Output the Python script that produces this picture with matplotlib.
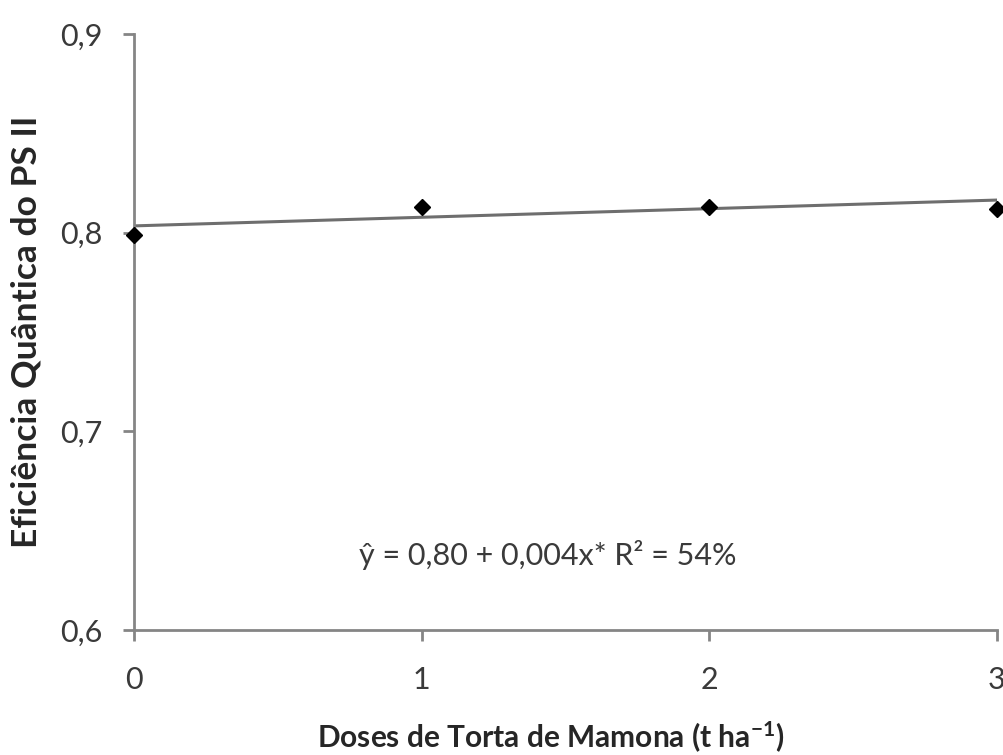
import matplotlib
matplotlib.use("Agg")
import matplotlib.pyplot as plt

# Data
doses = [0, 1, 2, 3]
efficiency = [0.799, 0.813, 0.813, 0.812]
trend_x = [0, 3]
trend_y = [0.8034, 0.8164]
x_ticks = [0, 1, 2, 3]
x_tick_labels = ["0", "1", "2", "3"]
y_ticks = [0.6, 0.7, 0.8, 0.9]
y_tick_labels = ["0,6", "0,7", "0,8", "0,9"]
equation = "ŷ = 0,80 + 0,004x* R² = 54%"
xlabel = "Doses de Torta de Mamona (t ha$^{-1}$)"
ylabel = "Eficiência Quântica do PS II"

plt.rcParams['font.family'] = ['Lato', 'DejaVu Sans']
plt.rcParams['mathtext.fontset'] = 'custom'
plt.rcParams['mathtext.rm'] = 'Lato'
plt.rcParams['mathtext.bf'] = 'Lato:bold'
plt.rcParams['mathtext.default'] = 'regular'

fig = plt.figure(figsize=(10.04, 7.55), dpi=100)
ax = fig.add_axes([0.1335, 0.1656, 0.993 - 0.1335, 0.955 - 0.1656])

grey = "#858585"
ax.plot(trend_x, trend_y, color="#6e6e6e", lw=2.2, zorder=2)
ax.plot(doses, efficiency, linestyle="none", marker="D", markersize=8.5,
        color="black", zorder=3, clip_on=False)

ax.set_xlim(0, 3)
ax.set_ylim(0.6, 0.9)
ax.set_xticks(x_ticks)
ax.set_xticklabels(x_tick_labels)
ax.set_yticks(y_ticks)
ax.set_yticklabels(y_tick_labels)

for s in ["top", "right"]:
    ax.spines[s].set_visible(False)
for s in ["left", "bottom"]:
    ax.spines[s].set_color(grey)
    ax.spines[s].set_linewidth(2)

ax.tick_params(axis="both", direction="out", length=8, width=2, color=grey,
               labelsize=22, labelcolor="#3a3a3a")
ax.tick_params(axis="y", pad=15)
ax.tick_params(axis="x", pad=18)

ax.set_xlabel(xlabel, fontsize=21.5, fontweight="bold", color="#262626")
ax.xaxis.set_label_coords(0.483, -0.150)
ax.set_ylabel(ylabel, fontsize=25.5, fontweight="bold", color="#262626")
ax.yaxis.set_label_coords(-0.106, 0.5)

ax.text(0.48, 0.126, equation, transform=ax.transAxes, ha="center", va="center",
        fontsize=22, color="#3a3a3a")

fig.savefig("out.png", dpi=100, facecolor="white")
